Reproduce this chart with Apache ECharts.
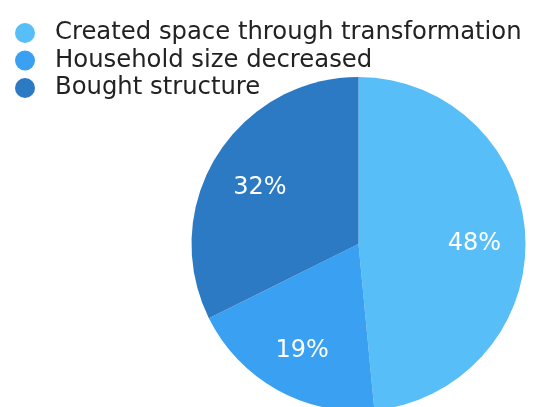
<!DOCTYPE html>
<html>
<head>
<meta charset="utf-8">
<script src="https://cdn.jsdelivr.net/npm/echarts@6/dist/echarts.min.js"></script>
<style>
  html, body { margin: 0; padding: 0; background: #fff; }
  #chart { width: 538px; height: 407px; }
</style>
</head>
<body>
<div id="chart"></div>
<script>
// Reasons for the change in living space
const categories = ['Created space through transformation', 'Household size decreased', 'Bought structure'];
const shares = [48, 19, 32];
const colors = ['#58BEF7', '#3AA0F1', '#2B7AC3'];

const pieData = categories.map((name, i) => ({ name: name, value: shares[i], itemStyle: { color: colors[i] } }));
const center = [358.5, 244];
const fontFamily = 'DejaVu Sans';

const chart = echarts.init(document.getElementById('chart'), null, { renderer: 'canvas' });
chart.setOption({
  animation: false,
  legend: {
    orient: 'vertical',
    left: 10,
    top: 16,
    icon: 'circle',
    itemWidth: 20,
    itemHeight: 20,
    itemGap: 3.5,
    selectedMode: false,
    textStyle: {
      fontFamily: fontFamily,
      fontSize: 24.3,
      color: '#222',
      padding: [0, 0, 0, 15]
    },
    data: categories
  },
  series: [
    {
      type: 'pie',
      center: center,
      radius: [0, 167],
      startAngle: 90,
      clockwise: true,
      label: { show: false },
      labelLine: { show: false },
      silent: true,
      data: pieData
    },
    {
      // transparent ring that carries the percentage labels further out
      type: 'pie',
      center: center,
      radius: [59, 167],
      startAngle: 90,
      clockwise: true,
      silent: true,
      itemStyle: { color: 'rgba(0,0,0,0)' },
      label: {
        show: true,
        position: 'inside',
        formatter: '{c}%',
        color: '#fff',
        fontFamily: fontFamily,
        fontSize: 24,
        offset: [0, 5]
      },
      labelLine: { show: false },
      data: categories.map((name, i) => ({ name: name, value: shares[i] }))
    }
  ]
});
</script>
</body>
</html>
